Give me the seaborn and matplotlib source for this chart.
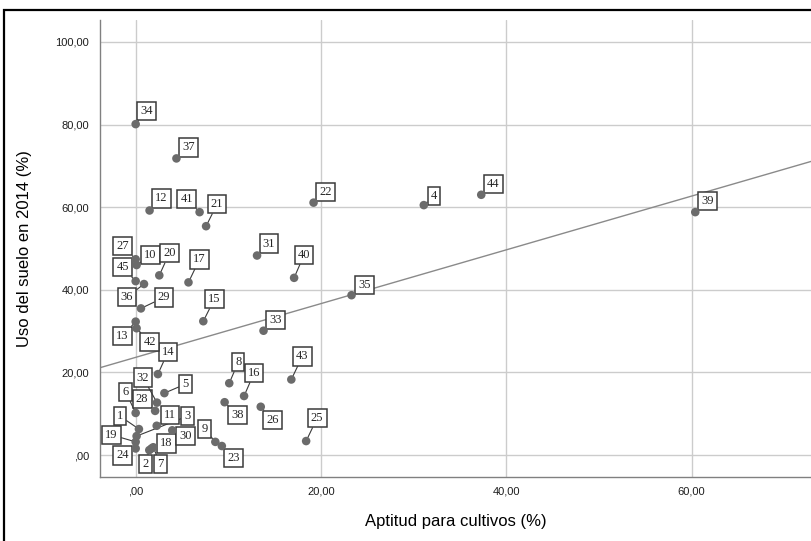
import pandas as pd
import seaborn as sns
import matplotlib.pyplot as plt
from matplotlib.patches import Rectangle
from matplotlib.ticker import FuncFormatter

# Datos (caso, aptitud para cultivos %, uso del suelo 2014 %)
casos = list(range(1, 46))
aptitud = [0.35, 1.47, 0.1, 31.1, 3.1, 0.0, 1.9, 10.1, 8.6, 0.1,
           2.27, 1.5, 0.0, 2.4, 7.3, 11.7, 5.7, 1.7, 0.0, 2.55,
           7.6, 19.2, 9.3, 0.0, 18.4, 13.5, 0.0, 2.1, 0.57, 3.95,
           13.1, 2.3, 13.8, 0.0, 23.3, 0.9, 4.4, 9.6, 60.4, 17.1,
           6.9, 0.1, 16.8, 37.3, 0.0]
uso_suelo = [6.3, 1.2, 4.6, 60.5, 15.0, 10.2, 1.9, 17.4, 3.2, 46.0,
             7.1, 59.2, 32.3, 19.6, 32.4, 14.3, 41.8, 1.6, 3.2, 43.5,
             55.4, 61.1, 2.2, 1.6, 3.4, 11.7, 47.4, 10.7, 35.5, 6.0,
             48.3, 12.7, 30.1, 80.1, 38.7, 41.4, 71.8, 12.8, 58.8, 42.9,
             58.8, 30.7, 18.3, 63.0, 42.1]

x_ticks = [0, 20, 40, 60]
y_ticks = [0, 20, 40, 60, 80, 100]

# desplazamiento de cada etiqueta respecto a su punto (pixeles, x derecha / y arriba)
desplazamientos = {
    1: (-19, 13), 2: (-4, -14), 3: (51, 20), 4: (10, 9), 5: (21, 9),
    6: (-10, 21), 7: (7, -17), 8: (9, 21), 9: (-11, 13), 10: (14, 10),
    11: (13, 11), 12: (12, 12), 13: (-13, -14), 14: (10, 22), 15: (11, 22),
    16: (10, 23), 17: (11, 23), 18: (15, 5), 19: (-24, 7), 20: (10, 22),
    21: (11, 22), 22: (12, 11), 23: (12, -12), 24: (-13, -7), 25: (11, 23),
    26: (12, -13), 27: (-13, 13), 28: (-13, 12), 29: (23, 11), 30: (13, -6),
    31: (12, 12), 32: (-14, 25), 33: (12, 11), 34: (11, 13), 35: (13, 10),
    36: (-17, -13), 37: (12, 11), 38: (13, -13), 39: (12, 11), 40: (10, 23),
    41: (-13, 13), 42: (13, -14), 43: (11, 23), 44: (12, 11), 45: (-13, 14),
}

df = pd.DataFrame({"caso": casos, "aptitud": aptitud, "uso": uso_suelo})

sns.set_style("whitegrid")
plt.rcParams["font.family"] = ["Liberation Sans", "DejaVu Sans"]

fig = plt.figure(figsize=(8.12, 5.41), dpi=100)
ax = fig.add_axes([100 / 812, 1 - 477 / 541, 712 / 812, 457 / 541])
ax.set_xlim(-3.85, 73.0)
ax.set_ylim(-5.3, 105.3)

# recta de ajuste sobre todo el ancho del eje
sns.regplot(data=df, x="aptitud", y="uso", scatter=False, ci=None,
            truncate=False, color="#8a8a8a", line_kws={"lw": 1.0, "zorder": 2}, ax=ax)
sns.scatterplot(data=df, x="aptitud", y="uso", color="#6b6b6b", s=38,
                edgecolor="none", zorder=4, ax=ax)

for caso, x, y in zip(casos, aptitud, uso_suelo):
    dx, dy = desplazamientos[caso]
    ax.annotate(str(caso), (x, y), xytext=(dx, dy), textcoords="offset pixels",
                ha="center", va="center", fontsize=9, family="Liberation Serif",
                bbox=dict(boxstyle="square,pad=0.25", fc="white", ec="#3a3a3a", lw=1.1),
                arrowprops=dict(arrowstyle="-", color="#3a3a3a", lw=0.8,
                                shrinkA=0, shrinkB=2),
                zorder=3)

ax.set_xlim(-3.85, 73.0)
ax.set_ylim(-5.3, 105.3)
ax.set_xticks(x_ticks)
ax.set_yticks(y_ticks)


def formato(v, pos):
    s = f"{v:.2f}".replace(".", ",")
    return s[1:] if s.startswith("0") else s


ax.xaxis.set_major_formatter(FuncFormatter(formato))
ax.yaxis.set_major_formatter(FuncFormatter(formato))
ax.tick_params(length=0, labelsize=8, colors="#1e1e1e")
ax.tick_params(axis="y", pad=8)
ax.tick_params(axis="x", pad=7)

ax.grid(True, color="#cccccc", lw=1.0)
for lado in ["top", "right"]:
    ax.spines[lado].set_visible(False)
for lado in ["left", "bottom"]:
    ax.spines[lado].set_color("#808080")
    ax.spines[lado].set_linewidth(1.0)

ax.set_xlabel("Aptitud para cultivos (%)", fontsize=12, color="black")
ax.set_ylabel("Uso del suelo en 2014 (%)", fontsize=12, color="black")
ax.xaxis.set_label_coords(0.5, -(514 - 477) / 457)
ax.yaxis.set_label_coords(-(100 - 32) / 712, 0.5)

# marco negro exterior
fig.add_artist(Rectangle((4 / 812, -0.05), 1.2, 1 - 10 / 541 + 0.05,
                         transform=fig.transFigure, fill=False,
                         ec="black", lw=1.6, clip_on=False))

fig.savefig("out.png", dpi=100)
